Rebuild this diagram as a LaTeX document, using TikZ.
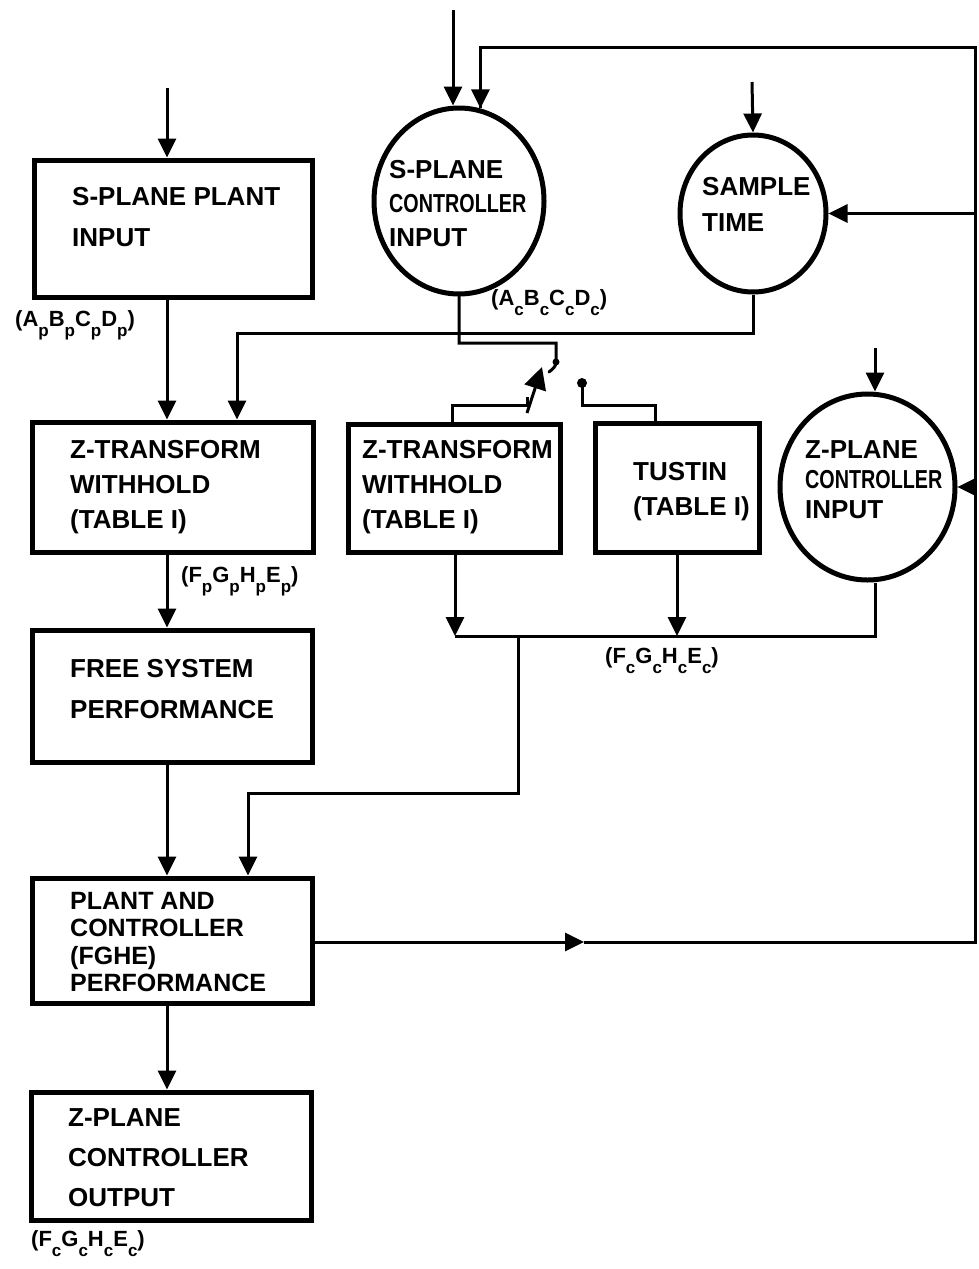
\documentclass[tikz,border=0pt]{standalone}
\usepackage{fontspec}
\setmainfont{Liberation Sans}
\usetikzlibrary{arrows.meta,shapes.geometric}
\newcommand\lsub[1]{\raisebox{-10pt}{\fontsize{17}{17}\selectfont #1}}
\newcommand\cnd[1]{\scalebox{0.76}[1]{#1}}
\begin{document}
\begin{tikzpicture}[x=1pt,y=-1pt,
  box/.style={draw,line width=5pt,rectangle,inner sep=0pt},
  oval/.style={draw,line width=5pt,ellipse,inner sep=0pt},
  conn/.style={line width=3pt},
  arr/.style={line width=3pt,-{Triangle[length=19pt,width=18pt]}},
  txt/.style={anchor=north west,inner sep=0pt,align=left},
  lab/.style={anchor=north west,inner sep=0pt,font=\bfseries\fontsize{22}{22}\selectfont}]
\useasboundingbox (0,0) rectangle (979,1269);
% boxes
\node[box,minimum width=278pt,minimum height=137pt] (plant) at (173,228.5) {};
\node[box,minimum width=281pt,minimum height=130pt] (ztl) at (172.5,487) {};
\node[box,minimum width=280pt,minimum height=132pt] (free) at (172,696) {};
\node[box,minimum width=280pt,minimum height=125pt] (pc) at (172,940.5) {};
\node[box,minimum width=280pt,minimum height=128pt] (zout) at (171,1156) {};
\node[box,minimum width=212pt,minimum height=128pt] (ztm) at (454,488) {};
\node[box,minimum width=164pt,minimum height=129pt] (tus) at (677,488) {};
\node[oval,minimum width=170pt,minimum height=186pt] (sctl) at (459,201) {};
\node[oval,minimum width=146pt,minimum height=157pt] (st) at (753,213.5) {};
\node[oval,minimum width=175pt,minimum height=186pt] (zpc) at (867.5,487) {};
% texts
\node[txt,font=\bfseries\fontsize{26}{41}\selectfont] (plantT) at (72,187) {S-PLANE PLANT\\INPUT};
\node[txt,font=\bfseries\fontsize{26}{35}\selectfont] (ztlT) at (70,440) {Z-TRANSFORM\\WITHHOLD\\(TABLE I)};
\node[txt,font=\bfseries\fontsize{26}{41}\selectfont] (freeT) at (70,659) {FREE SYSTEM\\PERFORMANCE};
\node[txt,font=\bfseries\fontsize{25}{27.5}\selectfont] (pcT) at (70,892) {PLANT AND\\CONTROLLER\\(FGHE)\\PERFORMANCE};
\node[txt,font=\bfseries\fontsize{26}{40}\selectfont] (zoutT) at (68,1108) {Z-PLANE\\CONTROLLER\\OUTPUT};
\node[txt,font=\bfseries\fontsize{26}{35}\selectfont] (ztmT) at (362,440) {Z-TRANSFORM\\WITHHOLD\\(TABLE I)};
\node[txt,font=\bfseries\fontsize{26}{35}\selectfont] (tusT) at (633,462) {TUSTIN\\(TABLE I)};
\node[txt,font=\bfseries\fontsize{26}{34}\selectfont] (sctlT) at (389,160) {S-PLANE\\\cnd{CONTROLLER}\\INPUT};
\node[txt,font=\bfseries\fontsize{26}{36}\selectfont] (stT) at (702,177) {SAMPLE\\TIME};
\node[txt,font=\bfseries\fontsize{26}{30}\selectfont] (zpcT) at (805,440) {Z-PLANE\\\cnd{CONTROLLER}\\INPUT};
% labels
\node[lab] (l1) at (15,310) {(A\lsub{p}B\lsub{p}C\lsub{p}D\lsub{p})};
\node[lab] (l2) at (491,289) {(A\lsub{c}B\lsub{c}C\lsub{c}D\lsub{c})};
\node[lab] (l3) at (181,566) {(F\lsub{p}G\lsub{p}H\lsub{p}E\lsub{p})};
\node[lab] (l4) at (605,647) {(F\lsub{c}G\lsub{c}H\lsub{c}E\lsub{c})};
\node[lab] (l5) at (31,1230) {(F\lsub{c}G\lsub{c}H\lsub{c}E\lsub{c})};
% coordinates
\coordinate (lx) at (167,0);
\coordinate (inP) at (167,88);
\coordinate (inS) at (453,10);
\coordinate (inT) at (752,82);
\coordinate (inZ) at (875,348);
\coordinate (stL) at (237,333);
\coordinate (swTop) at (556,343);
\coordinate (swA) at (556,362);
\coordinate (swE) at (549,372);
\coordinate (swL) at (452,405);
\coordinate (swB) at (527,405);
\coordinate (swC) at (542,367);
\coordinate (swD) at (582,383);
\coordinate (swR) at (655,405);
\coordinate (bus) at (455,636);
\coordinate (busJ) at (518,636);
\coordinate (busR) at (875,636);
\coordinate (pcL) at (248,793);
\coordinate (mid) at (584,942);
\coordinate (fbB) at (975,942);
\coordinate (fbT) at (975,47);
\coordinate (fbS) at (975,213.5);
\coordinate (fbZ) at (975,487);
% left column
\draw[arr] (inP) -- (inP |- plant.north);
\draw[arr] (plant.south -| lx) -- (ztl.north -| lx);
\draw[arr] (ztl.south -| lx) -- (free.north -| lx);
\draw[arr] (free.south -| lx) -- (pc.north -| lx);
\draw[arr] (pc.south -| lx) -- (zout.north -| lx);
% inputs on top
\draw[arr] (inS) -- (inS |- sctl.north);
\draw[arr] (inT) -- (st.north);
\draw[arr] (inZ) -- (inZ |- zpc.north);
% sample time to left z-transform
\draw[arr] (st.south) |- (stL) -- (stL |- ztl.north);
% switch
\draw[conn,line cap=round] (sctl.south) |- (swTop) -- (swA) to[out=-90,in=40] (swE);
\fill (swA) circle (3.5pt);
\draw[conn] (ztm.north -| swL) -- (swL) -- (swB) -- ++(0,-8);
\draw[line width=3pt,-{Triangle[length=22pt,width=22pt]}] ([yshift=-8pt]swB) -- (swC);
\fill (swD) circle (5pt);
\draw[conn] (swD) |- (swR) -- (swR |- tus.north);
% bus
\draw[arr] (ztm.south -| bus) -- (bus);
\draw[arr] (tus.south) -- (tus.south |- bus);
\draw[conn] (bus) -- (busR) -- (busR |- zpc.south);
\draw[arr] (busJ) |- (pcL) -- (pcL |- pc.north);
% feedback
\draw[arr] (pc.east |- mid) -- (mid);
\draw[conn] (mid) -- (fbB) -- (fbT) -| (sctl.77);
\draw[arr] (fbT -| sctl.77) -- (sctl.77);
\draw[arr] (fbS) -- (st.east);
\draw[arr] (fbZ) -- (zpc.east);
\end{tikzpicture}
\end{document}
